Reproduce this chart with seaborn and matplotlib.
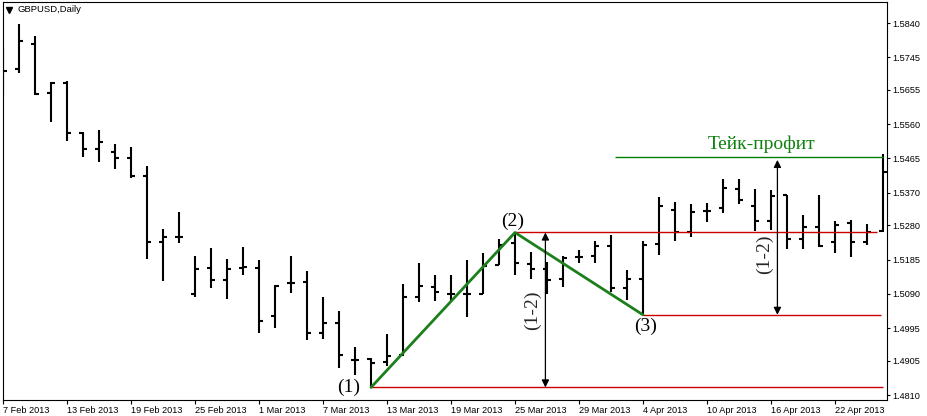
import numpy as np
import pandas as pd
import seaborn as sns
import matplotlib
matplotlib.use("Agg")
import matplotlib.pyplot as plt

sns.set_theme(style="white")
plt.rcParams['font.family'] = ['Liberation Sans', 'DejaVu Sans']

# GBPUSD daily bars, 7 Feb 2013 .. 25 Apr 2013 (one bar per weekday)
dates = pd.bdate_range("2013-02-07", "2013-04-25")

opens = [1.5668, 1.5713, 1.5782, 1.5647, 1.5673, 1.5535, 1.5490, 1.5484, 1.5465, 1.5416,
         1.5235, 1.5247, 1.5090, 1.5161, 1.5128, 1.5161, 1.5163, 1.5030, 1.5119, 1.5122,
         1.4983, 1.5009, 1.4907, 1.4910, 1.4902, 1.4921, 1.5082, 1.5108, 1.5089, 1.5089,
         1.5089, 1.5170, 1.5230, 1.5173, 1.5158, 1.5130, 1.5191, 1.5195, 1.5223, 1.5105,
         1.5130, 1.5228, 1.5322, 1.5262, 1.5320, 1.5327, 1.5380, 1.5334, 1.5292, 1.5363,
         1.5242, 1.5276, 1.5233, 1.5285, 1.5235, 1.5264]
highs = [1.5771, 1.5836, 1.5805, 1.5678, 1.5680, 1.5537, 1.5544, 1.5504, 1.5498, 1.5445,
         1.5269, 1.5316, 1.5195, 1.5216, 1.5187, 1.5219, 1.5184, 1.5114, 1.5195, 1.5153,
         1.5082, 1.5043, 1.4944, 1.4913, 1.4978, 1.5117, 1.5175, 1.5142, 1.5142, 1.5184,
         1.5202, 1.5242, 1.5258, 1.5207, 1.5179, 1.5195, 1.5212, 1.5237, 1.5253, 1.5156,
         1.5237, 1.5357, 1.5345, 1.5338, 1.5341, 1.5407, 1.5407, 1.5380, 1.5378, 1.5364,
         1.5308, 1.5364, 1.5293, 1.5295, 1.5283, 1.5477]
lows = [1.5641, 1.5701, 1.5641, 1.5565, 1.5514, 1.5468, 1.5456, 1.5435, 1.5410, 1.5187,
        1.5127, 1.5230, 1.5082, 1.5107, 1.5077, 1.5142, 1.4983, 1.4996, 1.5092, 1.4962,
        1.4964, 1.4884, 1.4865, 1.4831, 1.4890, 1.4919, 1.5067, 1.5070, 1.5070, 1.5027,
        1.5089, 1.5170, 1.5142, 1.5130, 1.5090, 1.5108, 1.5176, 1.5175, 1.5096, 1.5073,
        1.5032, 1.5198, 1.5237, 1.5248, 1.5290, 1.5315, 1.5338, 1.5265, 1.5267, 1.5213,
        1.5214, 1.5221, 1.5202, 1.5191, 1.5225, 1.5261]
closes = [1.5708, 1.5791, 1.5643, 1.5675, 1.5536, 1.5491, 1.5511, 1.5467, 1.5416, 1.5235,
          1.5247, 1.5247, 1.5158, 1.5128, 1.5158, 1.5165, 1.5016, 1.5112, 1.5121, 1.4983,
          1.5009, 1.4921, 1.4907, 1.4899, 1.4919, 1.5081, 1.5113, 1.5094, 1.5089, 1.5089,
          1.5167, 1.5225, 1.5175, 1.5158, 1.5128, 1.5189, 1.5191, 1.5223, 1.5105, 1.5130,
          1.5225, 1.5333, 1.5262, 1.5316, 1.5320, 1.5382, 1.5350, 1.5292, 1.5361, 1.5242,
          1.5276, 1.5223, 1.5281, 1.5235, 1.5262, 1.5428]

# wave points: bar number and price
wave_bars = [23, 32, 40]
wave_prices = [1.4831, 1.5260, 1.5032]
wave_names = ["(1)", "(2)", "(3)"]
take_profit = 1.5470

y_ticks = [1.4810, 1.4905, 1.4995, 1.5090, 1.5185, 1.5280,
           1.5370, 1.5465, 1.5560, 1.5655, 1.5745, 1.5840]

bars = pd.DataFrame({"date": dates, "open": opens, "high": highs,
                     "low": lows, "close": closes})
bars["n"] = np.arange(len(bars))
wave = pd.DataFrame({"n": wave_bars, "price": wave_prices})

fig = plt.figure(figsize=(9.27, 4.16), dpi=100)
ax = fig.add_axes([2.5 / 927, 16 / 416, 885 / 927, 398 / 416])

# price bars
lw = 1.5
ax.vlines(bars["n"], bars["low"], bars["high"], colors="black", linewidth=lw, zorder=2)
ax.hlines(bars["open"], bars["n"] - 0.25, bars["n"], colors="black", linewidth=lw, zorder=2)
ax.hlines(bars["close"], bars["n"], bars["n"] + 0.25, colors="black", linewidth=lw, zorder=2)

# horizontal levels
red = "#cc0000"
for b, p, end in zip(wave_bars, wave_prices, [55.0, 54.6, 54.9]):
    ax.hlines(p, b, end, colors=red, linewidth=1.0, zorder=3)
ax.hlines(take_profit, 38.25, 55.0, colors="#008000", linewidth=1.0, zorder=3)

# zigzag
sns.lineplot(data=wave, x="n", y="price", color="#1c7f1c", linewidth=2.0,
             ax=ax, zorder=4, legend=False)

serif = ['Liberation Serif', 'DejaVu Serif']
offsets = [(-16, 0), (-2, 8), (1.5, -8.5)]
for b, p, name, off in zip(wave_bars, wave_prices, wave_names, offsets):
    ax.annotate(name, (b, p), xytext=off, textcoords="offset points",
                ha="center", va="center", fontsize=14, family=serif, color="black")

# (1-2) distance arrows
dist = wave_prices[1] - wave_prices[0]
arrow = dict(arrowstyle="<|-|>", color="black", lw=0.9, mutation_scale=11,
             shrinkA=0, shrinkB=0)
ax.annotate("", xy=(33.9, wave_prices[0]), xytext=(33.9, wave_prices[1]),
            arrowprops=arrow, zorder=5)
ax.annotate("", xy=(48.4, wave_prices[2]), xytext=(48.4, wave_prices[2] + dist),
            arrowprops=arrow, zorder=5)
ax.text(33.1, (wave_prices[0] + wave_prices[1]) / 2, "(1-2)", rotation=90,
        ha="center", va="center", fontsize=14, family=serif)
ax.text(47.6, 1.5200, "(1-2)", rotation=90,
        ha="center", va="center", fontsize=14, family=serif)

ax.text(47.4, 1.5504, "Тейк-профит", ha="center", va="center",
        fontsize=14, family=serif, color="#108010")

# header
ax.plot([0.0075], [0.979], marker="v", markersize=4, color="black",
        transform=ax.transAxes, clip_on=False)
ax.text(0.0175, 0.981, "GBPUSD,Daily", transform=ax.transAxes,
        ha="left", va="center", fontsize=6.8, color="black")

# axes
ax.set_xlim(-0.03, 55.28)
ax.set_ylim(1.47962, 1.58982)
xt = list(range(0, len(bars), 4))
ax.set_xticks(xt)
ax.set_xticklabels([f"{d.day} {d.strftime('%b %Y')}" for d in bars["date"].iloc[xt]])
for lbl in ax.get_xticklabels():
    lbl.set_horizontalalignment("left")
ax.yaxis.tick_right()
ax.set_yticks(y_ticks)
ax.set_yticklabels([f"{v:.4f}" for v in y_ticks])
ax.tick_params(axis="x", direction="out", length=3, width=0.8, pad=1,
               labelsize=6.6, colors="black", bottom=True)
ax.tick_params(axis="y", direction="out", length=2.2, width=0.8, pad=1.5,
               labelsize=6.6, colors="black", right=True, left=False)
ax.set_xlabel("")
ax.set_ylabel("")
for s in ax.spines.values():
    s.set_visible(True)
    s.set_color("black")
    s.set_linewidth(0.8)
ax.grid(False)

fig.savefig("out.png", dpi=100)
